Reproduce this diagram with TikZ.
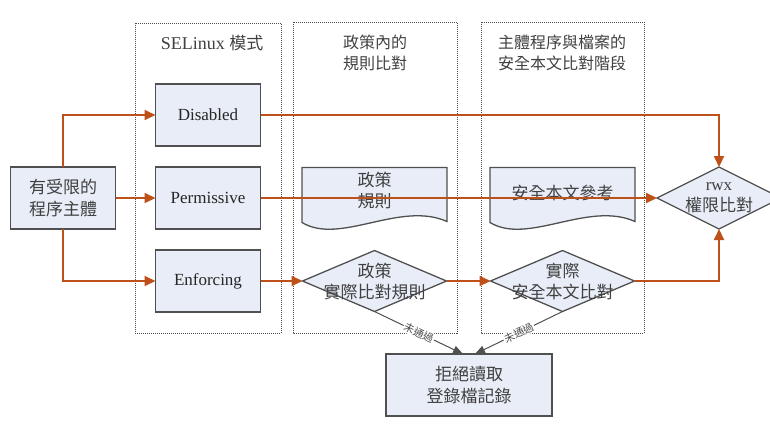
\documentclass[tikz,border=0pt]{standalone}
\usepackage{fontspec}
\setmainfont{Liberation Serif}
\newfontfamily\cjk{Noto Sans CJK TC}
\usepackage{tikz}
\usetikzlibrary{positioning}
\usetikzlibrary{shapes.geometric, arrows.meta, backgrounds}
\definecolor{boxfill}{RGB}{232,237,247}
\definecolor{flow}{RGB}{190,80,25}
\definecolor{edge}{RGB}{80,80,80}

\begin{document}
\begin{tikzpicture}[
    x=1pt, y=-1pt,
    node distance=21pt,
    stage/.style={
        draw=black!70,
        line width=0.8pt,
        dash pattern=on 1pt off 1pt
    },
    title/.style={
        align=center,
        text=black!75,
        font=\fontsize{16}{21}\selectfont
    },
    block/.style={
        rectangle,
        draw=edge,
        line width=1.3pt,
        outer sep=0pt,
        fill=boxfill,
        text=black!85,
        align=center,
        minimum width=105pt,
        minimum height=62pt,
        font=\fontsize{17}{22}\selectfont
    },
    cjkfont/.style={
        font=\cjk\fontsize{17}{22}\selectfont,
        text=black!75
    },
    sheet/.style={
        rectangle,
        outer sep=0pt,
        minimum width=145pt,
        minimum height=62pt
    },
    sheetline/.style={
        draw=edge,
        line width=1.3pt,
        fill=boxfill
    },
    check/.style={
        diamond,
        draw=edge,
        line width=1.3pt,
        outer sep=0pt,
        fill=boxfill,
        inner sep=0pt,
        minimum width=144pt,
        minimum height=61pt
    },
    inside/.style={
        align=center,
        text=black!75,
        font=\cjk\fontsize{17}{21}\selectfont
    },
    flowline/.style={
        -{Triangle[length=11pt,width=10pt]},
        draw=flow,
        line width=2pt
    },
    reject/.style={
        -{Triangle[length=10pt,width=8pt]},
        draw=edge,
        line width=1pt
    },
    fail/.style={
        sloped,
        fill=white,
        inner sep=1pt,
        text=black!70,
        font=\cjk\fontsize{10.5}{11}\selectfont
    }
]
\useasboundingbox (0,0) rectangle (770,424);

% stage frames
\draw[stage] (135,23) rectangle (281,333);
\draw[stage] (293,22) rectangle (457,333);
\draw[stage] (481,22) rectangle (644,333);

\node[title, font=\fontsize{18}{21}\selectfont] (modetitle) at (212,43) {SELinux {\cjk\fontsize{17}{21}\selectfont 模式}};
\node[title, font=\cjk\fontsize{16}{21}\selectfont] (ruletitle) at (375,53) {政策內的\\規則比對};
\node[title, font=\cjk\fontsize{16}{21}\selectfont] (contexttitle) at (562,53) {主體程序與檔案的\\安全本文比對階段};

% subject and modes
\node[block, cjkfont] (subject) at (63,198) {有受限的\\程序主體};
\node[block] (disabled) at (208,115) {Disabled};
\node[block] (permissive) [below=of disabled] {Permissive};
\node[block] (enforcing) [below=of permissive] {Enforcing};

% checks
\node[check, label={[inside]center:{政策\\實際比對規則}}] (pcomp) [right=42pt of enforcing] {};
\node[check, label={[inside]center:{實際\\安全本文比對}}] (ccomp) [right=44pt of pcomp] {};
\node[check, minimum width=124pt, minimum height=62pt,
      label={[inside]center:{{\fontspec{Liberation Serif}rwx}\\權限比對}}] (rwx) at (719,198) {};

% documents
\node[sheet, label={[inside, yshift=8pt]center:{政策\\規則}}] (rules) [above=of pcomp] {};
\node[sheet, label={[inside, yshift=6pt]center:{安全本文參考}}] (context) [above=of ccomp] {};
\begin{scope}[on background layer]
\foreach \doc in {rules, context}
    \path[sheetline] (\doc.north west) -- (\doc.north east) -- ([yshift=8pt]\doc.south east)
        .. controls ([xshift=98pt,yshift=29pt]\doc.south west) and ([xshift=38pt,yshift=-16pt]\doc.south west)
        .. ([yshift=7pt]\doc.south west) -- cycle;
\end{scope}

\node[block, cjkfont, minimum width=166pt] (deny) at (469,385) {拒絕讀取\\登錄檔記錄};

% flows
\draw[flowline] (subject.north) |- (disabled.west);
\draw[flowline] (subject.east) -- (permissive.west);
\draw[flowline] (subject.south) |- (enforcing.west);
\draw[flowline] (disabled.east) -| (rwx.north);
\draw[flowline] (permissive.east) -- (rwx.west);
\draw[flowline] (enforcing.east) -- (pcomp.west);
\draw[flowline] (pcomp.east) -- (ccomp.west);
\draw[flowline] (ccomp.east) -| (rwx.south);

\draw[reject] (pcomp.south) -- node[fail] {未通過} ([xshift=-6pt]deny.north);
\draw[reject] (ccomp.south) -- node[fail] {未通過} ([xshift=6pt]deny.north);

\end{tikzpicture}
\end{document}
